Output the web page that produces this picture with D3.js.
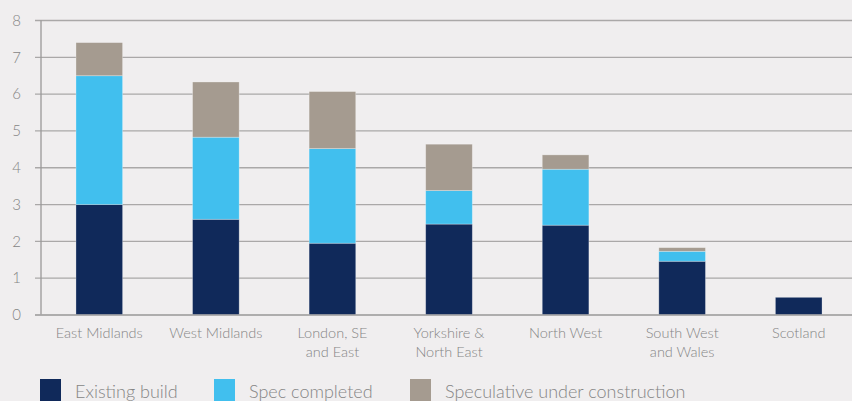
<!DOCTYPE html>
<html><head><meta charset="utf-8">
<script src="https://cdn.jsdelivr.net/npm/d3@7"></script>
<style>
html,body{margin:0;padding:0;background:#f0eeef;}
svg{display:block;}
text{font-family:Lato,"Open Sans",sans-serif;font-weight:300;fill:#858585;}
</style></head>
<body><svg id="c" width="852" height="401"></svg>
<script>
const categories = [["East Midlands"],["West Midlands"],["London, SE","and East"],["Yorkshire &","North East"],["North West"],["South West","and Wales"],["Scotland"]];
const existingBuild = [3.0, 2.6, 1.95, 2.47, 2.44, 1.46, 0.48];
const specCompleted = [3.5, 2.23, 2.57, 0.91, 1.52, 0.27, 0];
const specUnderConstruction = [0.9, 1.5, 1.55, 1.26, 0.39, 0.1, 0];
const seriesNames = ["Existing build","Spec completed","Speculative under construction"];
const yTicks = [0,1,2,3,4,5,6,7,8];
const colors = ["#10295a","#41bfee","#a59b90"];

const svg = d3.select("#c");
const x = d3.scaleBand().domain(d3.range(categories.length)).range([41, 857]).paddingInner(0.6).paddingOuter(0.3);
const y = d3.scaleLinear().domain([0, 8]).range([315, 20.5]);

// grid + ticks
const yAxis = d3.axisLeft(y).tickValues(yTicks).tickSize(0).tickPadding(0);
const gy = svg.append("g");
gy.selectAll("line.grid").data(yTicks).join("line")
  .attr("x1", 35).attr("x2", 852)
  .attr("y1", d => y(d)).attr("y2", d => y(d))
  .attr("stroke", "#aaa8a8").attr("stroke-width", 1.3);
gy.selectAll("text").data(yTicks).join("text")
  .attr("x", 21).attr("y", d => y(d)).attr("dy", "0.35em")
  .attr("text-anchor", "end").style("font-size", "15px").text(d => d);
svg.append("line").attr("x1", 41).attr("x2", 41).attr("y1", y(8)).attr("y2", y(0))
  .attr("stroke", "#9a9898").attr("stroke-width", 1.3);

// stacked bars
const rows = categories.map((c, i) => ({i, v: [existingBuild[i], specCompleted[i], specUnderConstruction[i]]}));
const stack = d3.stack().keys([0,1,2]).value((d, k) => d.v[k]);
const layers = stack(rows);
svg.append("g").selectAll("g").data(layers).join("g")
  .attr("fill", (d, k) => colors[k])
  .selectAll("rect").data(d => d.filter(p => p[1] - p[0] > 0)).join("rect")
  .attr("x", d => x(d.data.i)).attr("width", x.bandwidth())
  .attr("y", d => y(d[1])).attr("height", d => y(d[0]) - y(d[1]))
  .attr("stroke", "rgba(255,255,255,0.35)").attr("stroke-width", 0.8);

// bottom axis line
svg.append("line").attr("x1", 35).attr("x2", 852).attr("y1", y(0)).attr("y2", y(0))
  .attr("stroke", "#aaa8a8").attr("stroke-width", 1.3);

// x labels
const xl = svg.append("g").selectAll("text").data(categories).join("text")
  .attr("text-anchor", "middle").style("font-size", "14.5px")
  .attr("transform", (d, i) => `translate(${x(i) + x.bandwidth()/2},338)`);
xl.selectAll("tspan").data(d => d).join("tspan")
  .attr("x", 0).attr("y", (d, j) => j * 19).text(d => d);

// legend
const legX = [40, 214, 410];
const leg = svg.append("g").selectAll("g").data(seriesNames).join("g")
  .attr("transform", (d, i) => `translate(${legX[i]},379)`);
leg.append("rect").attr("width", 21).attr("height", 24).attr("fill", (d, i) => colors[i]);
leg.append("text").attr("x", 35).attr("y", 19).style("font-size", "18px").text(d => d);
</script></body></html>
